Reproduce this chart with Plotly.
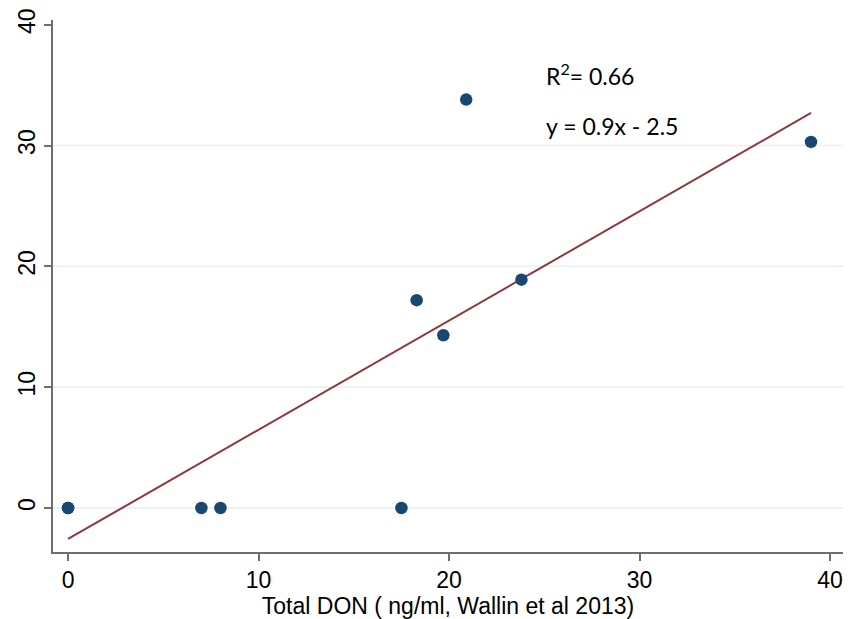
import plotly.graph_objects as go

# Data
don_wallin = [0, 0, 7.0, 8.0, 17.5, 18.3, 19.7, 20.9, 23.8, 39.0]
don_measured = [0, 0, 0, 0, 0, 17.2, 14.3, 33.8, 18.9, 30.3]
fit_slope = 0.904
fit_intercept = -2.56
r2_text = "R<sup>2</sup>= 0.66"
eq_text = "y = 0.9x - 2.5"
x_ticks = [0, 10, 20, 30, 40]
y_ticks = [0, 10, 20, 30, 40]
grid_vals = [0, 10, 20, 30]

x_fit = [min(don_wallin), max(don_wallin)]
y_fit = [fit_slope * v + fit_intercept for v in x_fit]

fig = go.Figure()
fig.add_trace(go.Scatter(
    x=x_fit, y=y_fit, mode="lines",
    line=dict(color="#90353b", width=2), showlegend=False, hoverinfo="skip"))
fig.add_trace(go.Scatter(
    x=don_wallin, y=don_measured, mode="markers",
    marker=dict(color="#1a476f", size=12.5), showlegend=False))

for g in grid_vals:
    fig.add_shape(type="line", xref="paper", x0=0, x1=1, yref="y", y0=g, y1=g,
                  line=dict(color="#e6eff2", width=1.5), layer="below")

fig.add_annotation(x=25.0, y=35.9, text=r2_text, showarrow=False, xanchor="left",
                   font=dict(family="Lato", size=23, color="#000"))
fig.add_annotation(x=25.0, y=31.6, text=eq_text, showarrow=False, xanchor="left",
                   font=dict(family="Lato", size=23, color="#000"))

axis_font = dict(family="Liberation Sans, Arial", size=23, color="#000")
fig.update_layout(
    width=854, height=619,
    margin=dict(l=45, r=19, t=12, b=75),
    paper_bgcolor="white", plot_bgcolor="white",
    xaxis=dict(range=[-0.79, 40.68], tickvals=x_ticks, showgrid=False, zeroline=False,
               showline=True, linecolor="#6e6e6e", linewidth=1.5,
               ticks="outside", ticklen=7, tickcolor="#6e6e6e", tickwidth=1.5,
               tickfont=axis_font, automargin=False,
               title=dict(text="Total DON ( ng/ml, Wallin et al 2013)", font=axis_font, standoff=2)),
    yaxis=dict(range=[-3.64, 40.39], tickvals=y_ticks, showgrid=False, zeroline=False,
               showline=True, linecolor="#6e6e6e", linewidth=1.5,
               ticks="outside", ticklen=7, tickcolor="#6e6e6e", tickwidth=1.5,
               tickangle=-90, tickfont=axis_font, automargin=False),
)

fig.write_html("out.html")
